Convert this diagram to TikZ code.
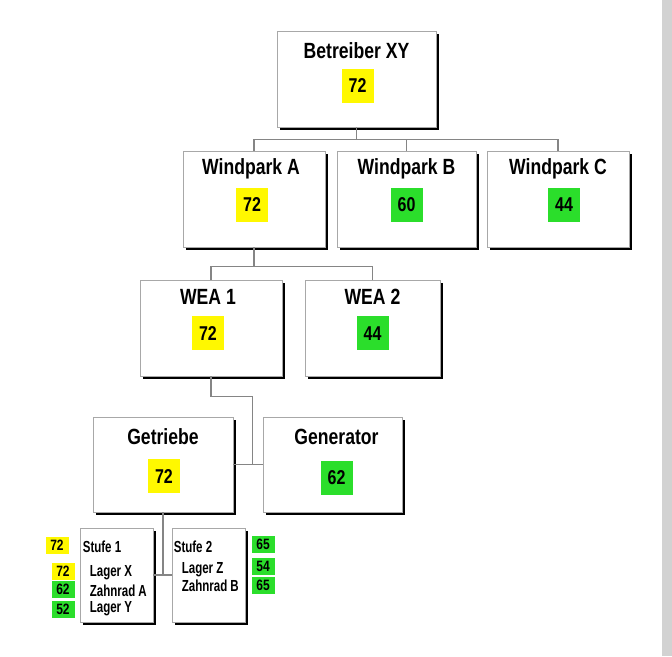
\documentclass[tikz,border=0pt]{standalone}
\usepackage{fontspec}
\newfontfamily\orgfont[FakeStretch=0.8]{Liberation Sans}
\newfontfamily\partfont[FakeStretch=0.72]{Liberation Sans}
\usepackage{tikz}
\usetikzlibrary{positioning, calc, shadows}
\definecolor{badgeyellow}{HTML}{FFF800}
\definecolor{badgegreen}{HTML}{2BDE2B}
\definecolor{boxgray}{HTML}{A8A8A8}
\definecolor{linegray}{HTML}{858585}
\definecolor{edgegray}{HTML}{D2D2D2}
\tikzset{
	orgbox/.style 2 args={draw=boxgray, fill=white, line width=0.7pt,
			minimum width=#1, minimum height=#2, inner sep=0pt,
			general shadow={fill=black, shadow xshift=3pt, shadow yshift=-3pt}}
}
\tikzset{
	titletext/.style={font=\orgfont\bfseries\fontsize{22}{24}\selectfont, inner sep=0pt, anchor=base}
}
\tikzset{
	bignum/.style={fill=#1, minimum width=32pt, minimum height=34pt, inner sep=0pt,
			font=\orgfont\bfseries\fontsize{20}{22}\selectfont}
}
\tikzset{
	smallnum/.style={fill=#1, minimum width=23pt, minimum height=17pt, inner sep=0pt,
			font=\orgfont\bfseries\fontsize{15}{16}\selectfont}
}
\tikzset{
	parttext/.style={font=\partfont\bfseries\fontsize{16}{18}\selectfont, inner sep=0pt, anchor=base west}
}
\tikzset{
	conn/.style={draw=linegray, line width=1.3pt}
}

\begin{document}
\begin{tikzpicture}[x=1pt, y=-1pt]

	\fill[white] (0,0) rectangle (672,656);
	\fill[edgegray] (662,0) rectangle (672,656);
	\useasboundingbox (0,0) rectangle (672,656);

	% boxes
	\node[orgbox={159pt}{96pt}] (bet) at (356.5,79) {};
	\node[orgbox={142pt}{96pt}] (wpA) at (254,199) {};
	\node[orgbox={139pt}{96pt}] (wpB) at (406.5,199) {};
	\node[orgbox={142pt}{96pt}] (wpC) at (558,199) {};
	\node[orgbox={142pt}{96pt}] (wea1) at (211,328) {};
	\node[orgbox={135pt}{96pt}] (wea2) at (372.5,328) {};
	\node[orgbox={140pt}{95pt}] (getr) at (163,464.5) {};
	\node[orgbox={139pt}{95pt}] (gen) at (332.5,464.5) {};
	\node[orgbox={73pt}{94pt}] (st1) at (116.5,575) {};
	\node[orgbox={73pt}{94pt}] (st2) at (208.5,575) {};

	% titles and values
	\node[titletext] (tbet) at ($(bet.north)+(0,28)$) {Betreiber XY};
	\node[bignum=badgeyellow] (vbet) at ($(bet.north)+(1,55)$) {72};

	\node[titletext] (twpA) at ($(wpA.north)+(-3,24)$) {Windpark A};
	\node[bignum=badgeyellow] (vwpA) at ($(wpA.north)+(-2,54)$) {72};
	\node[titletext] (twpB) at ($(wpB.north)+(0,24)$) {Windpark B};
	\node[bignum=badgegreen] (vwpB) at ($(wpB.north)+(0,54)$) {60};
	\node[titletext] (twpC) at ($(wpC.north)+(0,24)$) {Windpark C};
	\node[bignum=badgegreen] (vwpC) at ($(wpC.north)+(6,54)$) {44};

	\node[titletext] (twea1) at ($(wea1.north)+(-3,25)$) {WEA 1};
	\node[bignum=badgeyellow] (vwea1) at ($(wea1.north)+(-3,53.5)$) {72};
	\node[titletext] (twea2) at ($(wea2.north)+(0,25)$) {WEA 2};
	\node[bignum=badgegreen] (vwea2) at ($(wea2.north)+(0,53.5)$) {44};

	\node[titletext] (tgetr) at ($(getr.north)+(0,28)$) {Getriebe};
	\node[bignum=badgeyellow] (vgetr) at ($(getr.north)+(1,59.5)$) {72};
	\node[titletext] (tgen) at ($(gen.north)+(4,28)$) {Generator};
	\node[bignum=badgegreen] (vgen) at ($(gen.north)+(4,61)$) {62};

	% stages
	\node[parttext] (s1) at ($(st1.north west)+(3,25)$) {Stufe 1};
	\node[parttext] (s1a) at ($(st1.north west)+(10,49)$) {Lager X};
	\node[parttext] (s1b) at ($(st1.north west)+(10,68.5)$) {Zahnrad A};
	\node[parttext] (s1c) at ($(st1.north west)+(10,85)$) {Lager Y};

	\node[parttext] (s2) at ($(st2.north west)+(2,24.5)$) {Stufe 2};
	\node[parttext] (s2a) at ($(st2.north west)+(10,46)$) {Lager Z};
	\node[parttext] (s2b) at ($(st2.north west)+(10,63.5)$) {Zahnrad B};

	\node[smallnum=badgeyellow] (v1) at (57,545.5) {72};
	\node[smallnum=badgeyellow] (v1a) at (63,571) {72};
	\node[smallnum=badgegreen] (v1b) at (63,589.5) {62};
	\node[smallnum=badgegreen] (v1c) at (63,609) {52};

	\node[smallnum=badgegreen] (v2) at (263,544.5) {65};
	\node[smallnum=badgegreen] (v2a) at (263,566) {54};
	\node[smallnum=badgegreen] (v2b) at (263,585) {65};

	% connectors
	\draw[conn] (bet.south) -- ++(0,12) coordinate (busA);
	\draw[conn] (busA) -| (wpA.north);
	\draw[conn] (busA) -| (wpC.north);
	\draw[conn] (busA -| wpB.north) -- (wpB.north);

	\draw[conn] (wpA.south) -- ++(0,19) coordinate (busB);
	\draw[conn] (busB) -| (wea1.north);
	\draw[conn] (busB) -| (wea2.north);

	\coordinate (jg) at ($(getr.east)!0.65!(gen.west)$);
	\draw[conn] (wea1.south) -- ++(0,20) -| (jg);
	\draw[conn] (getr.east) -- (gen.west);

	\draw[conn] (getr.south) -- (getr.south |- st1.east);
	\draw[conn] (st1.east) -- (st2.west);

\end{tikzpicture}
\end{document}
